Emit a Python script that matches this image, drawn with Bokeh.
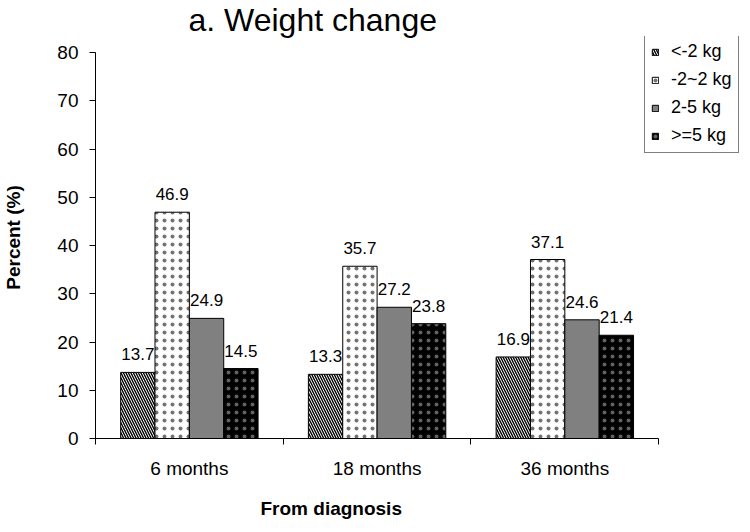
from bokeh.plotting import figure
from bokeh.models import Range1d, FixedTicker, Legend, LegendItem, Title, ColumnDataSource
from bokeh.core.properties import value
from bokeh.embed import file_html
from bokeh.resources import INLINE

# ---- data ----
groups = ["6 months", "18 months", "36 months"]
series = ["<-2 kg", "-2~2 kg", "2-5 kg", ">=5 kg"]
loss_gt2 = [13.7, 13.3, 16.9]
stable = [46.9, 35.7, 37.1]
gain_2_5 = [24.9, 27.2, 24.6]
gain_ge5 = [14.5, 23.8, 21.4]
y_ticks = [0, 10, 20, 30, 40, 50, 60, 70, 80]

all_values = [loss_gt2, stable, gain_2_5, gain_ge5]

FONT = "Liberation Sans"
W, H = 748, 532

# frame extends a little beyond the axes so the legend box can sit over it
p = figure(width=W, height=H, output_backend="svg", toolbar_location=None,
           x_range=Range1d(0, 3.473), y_range=Range1d(0, 83.32),
           min_border_left=94, min_border_right=1, min_border_top=36, min_border_bottom=94)
p.outline_line_color = None
p.xgrid.grid_line_color = None
p.ygrid.grid_line_color = None
p.background_fill_color = "white"
p.border_fill_color = "white"

p.title = Title(text="a. Weight change", align="left", offset=93,
                text_font=FONT, text_font_size="32px", text_font_style="normal",
                text_color="black", standoff=-3, text_line_height=1.0)

# styles per series
styles = [
    dict(fill_color="white", hatch_pattern="\\", hatch_color="black", hatch_scale=5, hatch_weight=1.4),
    dict(fill_color="white", hatch_pattern=".", hatch_color="black", hatch_scale=8,
         hatch_weight=0.35, hatch_alpha=0.55),
    dict(fill_color="#808080"),
    dict(fill_color="black", hatch_pattern=".", hatch_color="#8c8c8c", hatch_scale=8,
         hatch_weight=0.35, hatch_alpha=0.7),
]
n = len(series)
bar_w = 0.183
offsets = [(-1.5 + k) * bar_w for k in range(n)]

items = []
for k, (name, vals) in enumerate(zip(series, all_values)):
    xs = [i + 0.5 + offsets[k] for i in range(len(groups))]
    src = ColumnDataSource(dict(x=xs, top=vals, lab=[f"{v:.1f}" for v in vals]))
    r = p.vbar(x="x", top="top", width=bar_w, bottom=0, source=src,
               line_color="black", line_width=1, **styles[k])
    p.text(x="x", y="top", text="lab", source=src, text_align="center",
           text_baseline="alphabetic", y_offset=-18,
           text_font=value(FONT), text_font_size="17px", text_color="black")
    items.append(LegendItem(label=name, renderers=[r]))

# axes
xa = p.xaxis[0]
xa.bounds = (0, len(groups))
xa.ticker = FixedTicker(ticks=[i + 0.5 for i in range(len(groups))],
                        minor_ticks=list(range(len(groups) + 1)))
xa.major_label_overrides = {i + 0.5: g for i, g in enumerate(groups)}
xa.major_tick_out = 0
xa.major_tick_in = 0
xa.minor_tick_out = 6
xa.minor_tick_in = 0
xa.minor_tick_line_color = "black"
xa.axis_line_color = "black"
xa.major_label_text_font = FONT
xa.major_label_text_font_size = "19px"
xa.major_label_text_color = "black"
xa.major_label_standoff = 13

p.add_layout(Title(text="From diagnosis", align="left", offset=165,
                   text_font=FONT, text_font_size="19px", text_font_style="bold",
                   text_color="black", standoff=28, text_line_height=1.0), "below")

ya = p.yaxis[0]
ya.bounds = (0, 80)
ya.ticker = FixedTicker(ticks=y_ticks, minor_ticks=[])
ya.major_tick_out = 6
ya.major_tick_in = 0
ya.minor_tick_out = 0
ya.minor_tick_in = 0
ya.axis_line_color = "black"
ya.major_tick_line_color = "black"
ya.major_label_text_font = FONT
ya.major_label_text_font_size = "19px"
ya.major_label_text_color = "black"
ya.major_label_standoff = 11
ya.axis_label = "Percent (%)"
ya.axis_label_text_font = FONT
ya.axis_label_text_font_size = "19px"
ya.axis_label_text_font_style = "bold"
ya.axis_label_text_color = "black"
ya.axis_label_standoff = 30

legend = Legend(items=items, location=(549, 285), orientation="vertical",
                label_text_font=FONT, label_text_font_size="18px", label_text_color="black",
                glyph_width=8, glyph_height=8, label_standoff=12, label_height=20,
                spacing=7, padding=6, margin=0,
                border_line_color="black", border_line_width=1,
                background_fill_color="white", background_fill_alpha=1)
p.add_layout(legend)

open("out.html", "w").write(file_html(p, INLINE))
